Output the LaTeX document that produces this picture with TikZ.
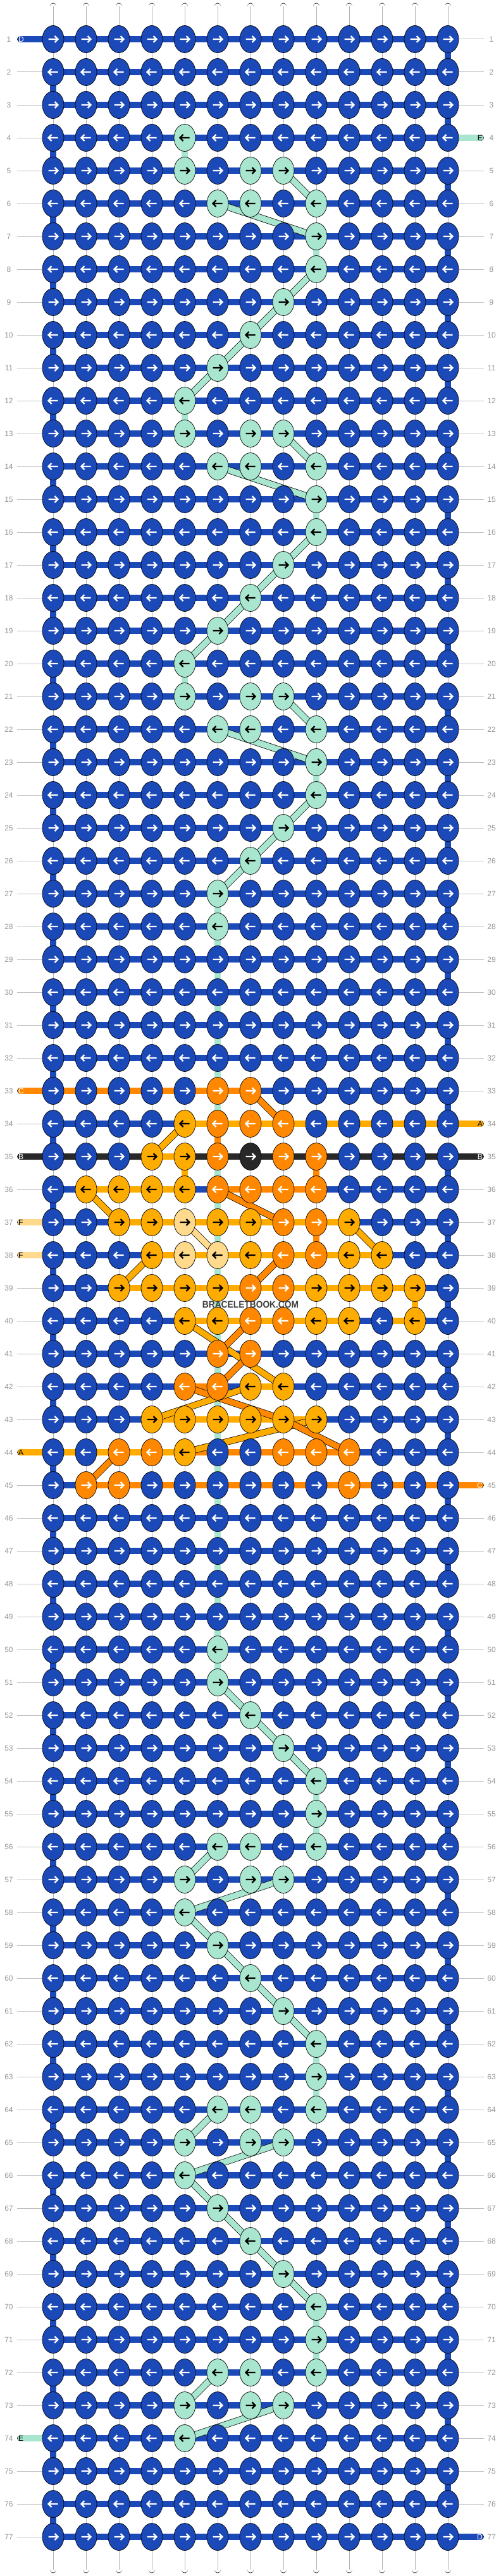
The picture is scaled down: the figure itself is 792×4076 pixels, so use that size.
\documentclass[tikz,border=0pt]{standalone}
\usepackage{fontspec}
\setmainfont{Liberation Sans}
\usetikzlibrary{shapes.geometric}
\definecolor{cB}{RGB}{27,73,184}
\definecolor{cM}{RGB}{168,230,207}
\definecolor{cO}{RGB}{255,136,0}
\definecolor{cY}{RGB}{255,172,0}
\definecolor{cL}{RGB}{255,217,140}
\definecolor{cK}{RGB}{40,40,40}
\colorlet{aB}{white}\colorlet{aM}{black}\colorlet{aO}{white}
\colorlet{aY}{black}\colorlet{aL}{black}\colorlet{aK}{white}
\definecolor{lblgray}{RGB}{150,150,150}
\definecolor{linegray}{RGB}{192,192,192}
\definecolor{wmgray}{RGB}{60,60,60}
\newcommand\setrow[2]{\foreach \cx/\kk in {#2}{\expandafter\xdef\csname kc@#1@\cx\endcsname{\kk}}}
% mint, upper part
\setrow{4}{5/M}
\setrow{5}{5/M,7/M,8/M}\setrow{6}{6/M,7/M,9/M}\setrow{7}{9/M}\setrow{8}{9/M}
\setrow{9}{8/M}\setrow{10}{7/M}\setrow{11}{6/M}\setrow{12}{5/M}
\setrow{13}{5/M,7/M,8/M}\setrow{14}{6/M,7/M,9/M}\setrow{15}{9/M}\setrow{16}{9/M}
\setrow{17}{8/M}\setrow{18}{7/M}\setrow{19}{6/M}\setrow{20}{5/M}
\setrow{21}{5/M,7/M,8/M}\setrow{22}{6/M,7/M,9/M}\setrow{23}{9/M}\setrow{24}{9/M}
\setrow{25}{8/M}\setrow{26}{7/M}\setrow{27}{6/M}\setrow{28}{6/M}
% centre motif
\setrow{33}{6/O,7/O}
\setrow{34}{5/Y,6/O,7/O,8/O}
\setrow{35}{4/Y,5/Y,6/O,7/K,8/O,9/O}
\setrow{36}{2/Y,3/Y,4/Y,5/Y,6/O,7/O,8/O,9/O}
\setrow{37}{3/Y,4/Y,5/L,6/Y,7/Y,8/O,9/O,10/Y}
\setrow{38}{4/Y,5/L,6/L,7/Y,8/O,9/O,10/Y,11/Y}
\setrow{39}{3/Y,4/Y,5/Y,6/Y,7/O,8/O,9/Y,10/Y,11/Y,12/Y}
\setrow{40}{5/Y,6/Y,7/O,8/O,9/Y,10/Y,12/Y}
\setrow{41}{6/O,7/O}
\setrow{42}{5/O,6/O,7/Y,8/Y}
\setrow{43}{4/Y,5/Y,6/Y,7/Y,8/Y,9/Y}
\setrow{44}{3/O,4/O,5/Y,8/O,9/O,10/O}
\setrow{45}{2/O,3/O,10/O}
% mint, lower part
\setrow{50}{6/M}\setrow{51}{6/M}\setrow{52}{7/M}\setrow{53}{8/M}\setrow{54}{9/M}\setrow{55}{9/M}
\setrow{56}{6/M,7/M,9/M}\setrow{57}{5/M,7/M,8/M}\setrow{58}{5/M}\setrow{59}{6/M}
\setrow{60}{7/M}\setrow{61}{8/M}\setrow{62}{9/M}\setrow{63}{9/M}
\setrow{64}{6/M,7/M,9/M}\setrow{65}{5/M,7/M,8/M}\setrow{66}{5/M}\setrow{67}{6/M}
\setrow{68}{7/M}\setrow{69}{8/M}\setrow{70}{9/M}\setrow{71}{9/M}
\setrow{72}{6/M,7/M,9/M}\setrow{73}{5/M,7/M,8/M}\setrow{74}{5/M}

\tikzset{
  knot/.style={ellipse, draw=black, line width=0.7pt, minimum width=34pt, minimum height=43pt, inner sep=0pt},
  lbl/.style={text=lblgray, font=\fontsize{12}{14}\selectfont, inner sep=0pt},
  stubtxt/.style={font=\fontsize{12}{14}\selectfont, inner sep=0pt},
}
\newcommand\band[3]{\draw[line width=10.8pt,black] (#1)--(#2);\draw[line width=9.3pt,#3] (#1)--(#2);}
\newcommand\wseg[2]{\band{#1}{#2}{white}\draw[line width=0.8pt,black!30] (#1)--(#2);}
\newcommand\vseg[3]{\pgfmathtruncatemacro\rn{#1+1}\band{p-#1-#2}{p-\rn-#2}{c#3}}
\newcommand\hsegs[2]{\foreach \sa/\kk in {#2}{\pgfmathtruncatemacro\sn{\sa+1}\band{p-#1-\sa}{p-#1-\sn}{c\kk}}}
\newcommand\dg[5]{\band{p-#1-#2}{p-#3-#4}{c#5}}
\newcommand\stubL[4]{\draw[line width=10.8pt,line cap=round] (sl-#1)--(p-#1-1);\draw[line width=9.3pt,line cap=round,c#2] (sl-#1)--(p-#1-1);\node[stubtxt,text=#4,anchor=west] (tl-#1) at ([xshift=-3.5pt]sl-#1) {#3};}
\newcommand\stubR[4]{\draw[line width=10.8pt,line cap=round] (sr-#1)--(p-#1-13);\draw[line width=9.3pt,line cap=round,c#2] (sr-#1)--(p-#1-13);\node[stubtxt,text=#4,anchor=east] (tr-#1) at ([xshift=3.5pt]sr-#1) {#3};}

\begin{document}
\begin{tikzpicture}[x=1pt,y=-1pt]
\fill[white] (0,0) rectangle (792,4076);
\useasboundingbox (0,0) rectangle (792,4076);
% coordinates
\foreach \rw in {1,...,77}{
  \pgfmathtruncatemacro\yy{10+52*\rw}
  \coordinate (ll-\rw) at (27,\yy);
  \coordinate (lr-\rw) at (765,\yy);
  \coordinate (sl-\rw) at (32.5,\yy);
  \coordinate (sr-\rw) at (759.5,\yy);
  \foreach \cl in {1,...,13}{\coordinate (p-\rw-\cl) at ({84+52*(\cl-1)},\yy);}
}
% top and bottom strings
\foreach \cl in {1,...,13}{
  \pgfmathsetmacro\xx{84+52*(\cl-1)}
  \coordinate (t-\cl) at (\xx,10);
  \coordinate (b-\cl) at (\xx,4066);
  \draw[line width=10.8pt,line cap=round] (t-\cl)--(p-1-\cl) (b-\cl)--(p-77-\cl);
  \draw[line width=9.3pt,line cap=round,white] (t-\cl)--(p-1-\cl) (b-\cl)--(p-77-\cl);
  \draw[line width=0.8pt,black!30] (t-\cl)--(p-1-\cl) (b-\cl)--(p-77-\cl);
}
% row labels
\foreach \rw in {1,...,77}{
  \draw[linegray,line width=1pt] (ll-\rw)--(p-\rw-1) (lr-\rw)--(p-\rw-13);
  \node[lbl] (nl-\rw) at ([xshift=-13pt]ll-\rw) {\rw};
  \node[lbl] (nr-\rw) at ([xshift=12pt]lr-\rw) {\rw};
}
% vertical segments
\foreach \rw in {1,...,76}{
  \pgfmathtruncatemacro\rn{\rw+1}
  \foreach \cl in {1,...,13}{\wseg{p-\rw-\cl}{p-\rn-\cl}}
}
\foreach \rw in {2,4,...,76}{\vseg{\rw}{1}{B}}
\foreach \rw in {1,3,...,75}{\vseg{\rw}{13}{B}}
\foreach \va/\vb/\kk in {4/5/M,7/9/M,12/5/M,15/9/M,20/5/M,23/9/M,54/9/M,55/9/M,62/9/M,63/9/M,70/9/M,71/9/M,34/6/O,35/5/Y,35/9/O,37/9/O,39/12/Y}{\vseg{\va}{\vb}{\kk}}
\foreach \va in {27,...,33}{\vseg{\va}{6}{M}}
\foreach \va in {35,...,50}{\vseg{\va}{6}{M}}
% horizontal bands
\foreach \rw in {1,...,77}{\band{p-\rw-1}{p-\rw-13}{cB}}
\hsegs{33}{1/O,2/O,3/O,4/O,5/O,6/O}
\hsegs{34}{5/Y,6/Y,7/Y,8/Y,9/Y,10/Y,11/Y,12/Y}
\hsegs{35}{1/K,2/K,3/K,4/Y,5/K,6/K,7/K,8/K,9/K,10/K,11/K,12/K}
\hsegs{36}{2/Y,3/Y,4/Y,6/O,7/O,8/O}
\hsegs{37}{3/Y,4/Y,5/Y,6/Y,7/Y,8/Y,9/Y}
\hsegs{38}{4/Y,5/Y,6/Y,7/Y,8/Y,9/Y,10/Y}
\hsegs{39}{3/Y,4/Y,5/Y,6/Y,7/Y,8/Y,9/Y,10/Y,11/Y}
\hsegs{40}{5/Y,6/Y,7/Y,8/Y,9/Y,11/Y}
\hsegs{42}{5/O,7/Y}
\hsegs{43}{4/Y,5/Y,6/Y,7/Y,8/Y}
\hsegs{44}{1/Y,2/Y,3/Y,4/Y,5/O,6/O,7/O,8/O,9/O}
\hsegs{45}{2/O,3/O,4/O,5/O,6/O,7/O,8/O,9/O,10/O,11/O,12/O}
% end strings
\stubL{1}{B}{D}{white}
\stubR{4}{M}{E}{black}
\stubL{33}{O}{C}{white}
\stubR{34}{Y}{A}{black}
\stubL{35}{K}{B}{white}
\stubR{35}{K}{B}{white}
\stubL{37}{L}{F}{black}
\stubL{38}{L}{F}{black}
\stubL{44}{Y}{A}{black}
\stubR{45}{O}{C}{white}
\stubL{74}{M}{E}{black}
\stubR{77}{B}{D}{white}
% diagonals
\foreach \ra/\ca/\rb/\cb in {5/8/6/9,6/6/7/9,8/9/9/8,9/8/10/7,10/7/11/6,11/6/12/5,
  13/8/14/9,14/6/15/9,16/9/17/8,17/8/18/7,18/7/19/6,19/6/20/5,
  21/8/22/9,22/6/23/9,24/9/25/8,25/8/26/7,26/7/27/6,
  51/6/52/7,52/7/53/8,53/8/54/9,56/6/57/5,57/8/58/5,58/5/59/6,59/6/60/7,60/7/61/8,61/8/62/9,
  64/6/65/5,65/8/66/5,66/5/67/6,67/6/68/7,68/7/69/8,69/8/70/9,72/6/73/5,73/8/74/5}{\dg{\ra}{\ca}{\rb}{\cb}{M}}
\dg{33}{7}{34}{8}{O}
\dg{34}{5}{35}{4}{Y}
\dg{36}{2}{37}{3}{Y}
\dg{36}{6}{37}{8}{O}
\dg{37}{5}{38}{6}{L}
\dg{37}{10}{38}{11}{Y}
\dg{38}{4}{39}{3}{Y}
\dg{38}{8}{39}{7}{O}
\dg{40}{5}{42}{8}{Y}
\dg{40}{7}{41}{6}{O}
\dg{41}{7}{42}{6}{O}
\dg{42}{5}{43}{8}{O}
\dg{42}{7}{43}{4}{Y}
\dg{43}{9}{44}{5}{Y}
\dg{43}{8}{44}{10}{O}
\dg{44}{3}{45}{2}{O}
% knots
\foreach \rw in {1,...,77}{
  \ifodd\rw\relax\def\ad{1}\else\def\ad{-1}\fi
  \foreach \cl in {1,...,13}{
    \edef\kcol{\ifcsname kc@\rw @\cl\endcsname\csname kc@\rw @\cl\endcsname\else B\fi}
    \node[knot,fill=c\kcol] (k-\rw-\cl) at (p-\rw-\cl) {};
    \begin{scope}[shift={(p-\rw-\cl)},xscale=\ad]
      \draw[a\kcol,line width=2.3pt] (-7.5,0)--(6.8,0) (2.5,-5)--(7.5,0)--(2.5,5);
    \end{scope}
  }
}
\node[text=wmgray,font=\bfseries\fontsize{15.3}{16}\selectfont,inner sep=0pt] (wm) at (396,2064) {\scalebox{0.9}[1]{BRACELETBOOK.COM}};
\end{tikzpicture}
\end{document}
